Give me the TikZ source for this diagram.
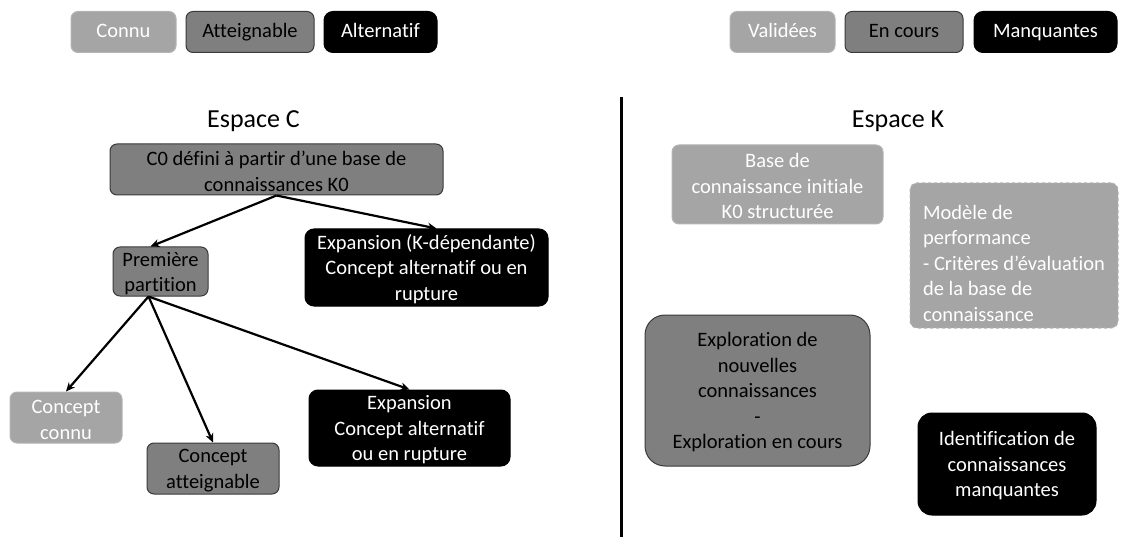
\documentclass[tikz,border=0pt]{standalone}
\usepackage{fontspec}
\setmainfont{Carlito}[Ligatures=NoCommon]
\usetikzlibrary{arrows.meta}

\definecolor{grisclair}{HTML}{A5A5A5}
\definecolor{grismoyen}{HTML}{7F7F7F}
\definecolor{bordclair}{HTML}{B4B4B4}
\definecolor{bordfonce}{HTML}{3A3A3A}

\begin{document}
\begin{tikzpicture}[x=1pt,y=-1pt,
	every node/.style={font=\fontsize{20.5}{25.5}\selectfont,inner sep=0pt},
	connu/.style={draw=bordclair,line width=1pt,rectangle,rounded corners=7pt,fill=grisclair,text=white,align=center},
	atteign/.style={draw=bordfonce,line width=1pt,rectangle,rounded corners=7pt,fill=grismoyen,text=black,align=center},
	altern/.style={draw=black,line width=1pt,rectangle,rounded corners=9pt,fill=black,text=white,align=center},
	legende/.style={minimum height=41pt,text height=15pt,text depth=4.5pt},
	titre/.style={font=\fontsize{26}{30}\selectfont,anchor=base},
	fleche/.style={-{Stealth[length=9pt,width=8pt]},line width=2.2pt}]
	\useasboundingbox (0,0) rectangle (1132,537);
	% legende
	\node[connu,legende,minimum width=105pt] (Lconnu) at (123.5,32) {Connu};
	\node[atteign,legende,minimum width=128pt] (Latteign) at (250,32) {Atteignable};
	\node[altern,legende,minimum width=113pt] (Laltern) at (380.5,32) {Alternatif};
	\node[connu,legende,minimum width=105pt] (Lvalid) at (782.5,32) {Validées};
	\node[atteign,legende,minimum width=118pt] (Lencours) at (904,32) {En cours};
	\node[altern,legende,minimum width=143pt] (Lmanq) at (1045.5,32) {Manquantes};
	% espace C
	\node[titre] (titreC) at (253.5,128) {Espace C};
	\node[atteign,minimum width=333pt,minimum height=51pt] (C0) at (276.5,169.5) {\strut C0 défini à partir d’une base de\\connaissances K0};
	\node[atteign,minimum width=95pt,minimum height=49pt] (prem) at (160.5,271.5) {\strut Première\\partition};
	\node[altern,minimum width=243pt,minimum height=77pt] (expK) at (426.5,267.5) {\strut Expansion (K-dépendante)\\Concept alternatif ou en\\rupture};
	\node[connu,minimum width=112pt,minimum height=51pt] (cconnu) at (66,417.5) {\strut Concept\\connu};
	\node[atteign,minimum width=132pt,minimum height=51pt] (catteign) at (213,468.5) {\strut Concept\\atteignable};
	\node[altern,minimum width=201pt,minimum height=76pt] (expC) at (409.5,428) {\strut Expansion\\Concept alternatif\\ou en rupture};
	\draw[fleche] (C0.south) -- ([xshift=-10pt]prem.north);
	\draw[fleche] (C0.south) -- ([xshift=10pt]expK.north);
	\draw[fleche] ([xshift=-12pt]prem.south) -- (cconnu.north);
	\draw[fleche] ([xshift=-12pt]prem.south) -- (catteign.north);
	\draw[fleche] ([xshift=-12pt]prem.south) -- (expC.north);
	% separation
	\draw[line width=3pt] (621,97) -- (621,537);
	% espace K
	\node[titre] (titreK) at (898,128) {Espace K};
	\node[connu,minimum width=211pt,minimum height=79pt] (base) at (777.5,184.5) {\strut Base de\\connaissance initiale\\K0 structurée};
	\node[connu,dashed,minimum width=208pt,minimum height=145pt,align=left] (perf) at (1014,255.5) {\rule{0pt}{30pt}Modèle de\\performance\\- Critères d’évaluation\\de la base de\\connaissance};
	\node[atteign,rounded corners=20pt,minimum width=225pt,minimum height=151pt] (explo) at (757.5,390.5) {\strut Exploration de\\nouvelles\\connaissances\\-\\Exploration en cours};
	\node[altern,rounded corners=14pt,minimum width=178pt,minimum height=102pt] (ident) at (1007,464) {\strut Identification de\\connaissances\\manquantes};
\end{tikzpicture}
\end{document}
